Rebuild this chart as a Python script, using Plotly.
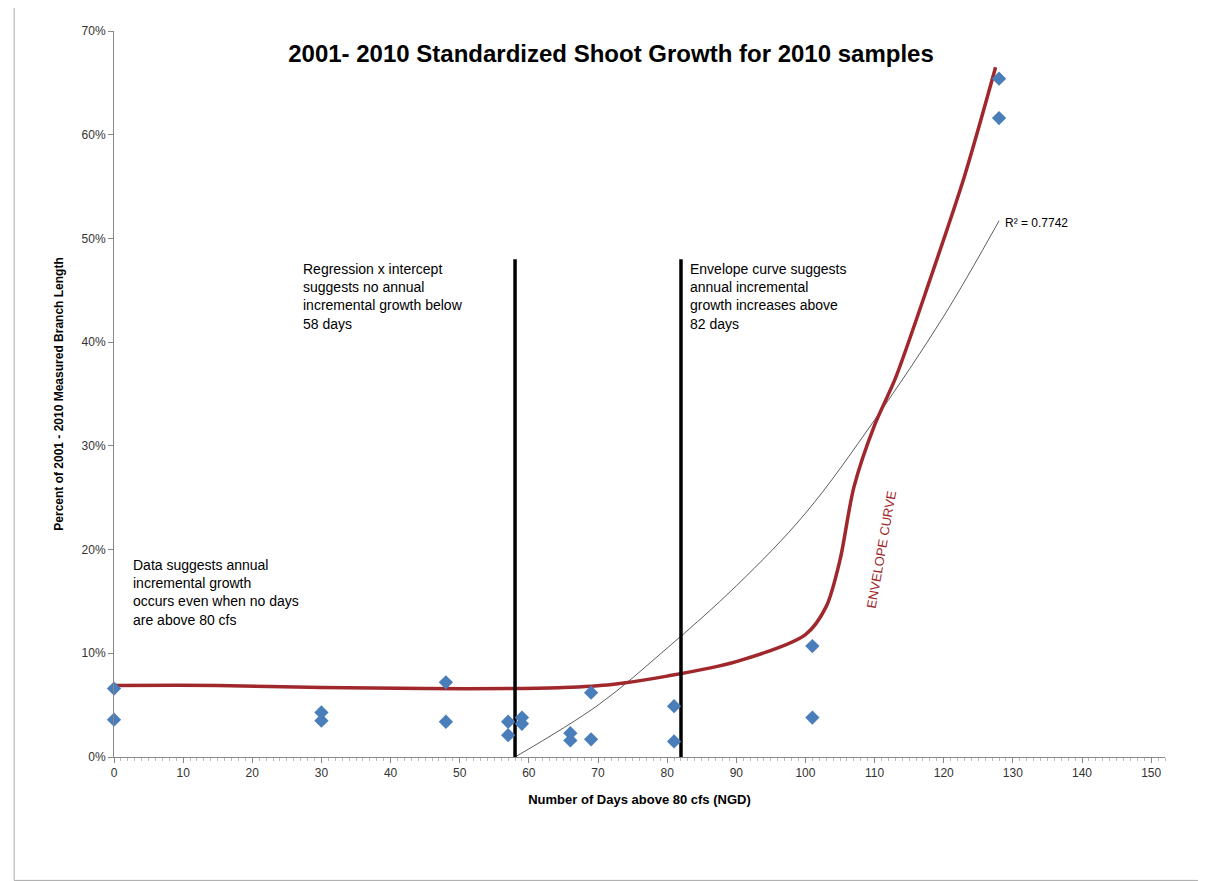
import numpy as np
import plotly.graph_objects as go

days = [0, 0, 30, 30, 48, 48, 57, 57, 59, 59, 66, 66, 69, 69, 81, 81, 101, 101, 128, 128]
pct = [6.6, 3.6, 4.3, 3.5, 7.2, 3.4, 3.4, 2.1, 3.8, 3.2, 2.3, 1.6, 6.2, 1.7, 4.9, 1.5, 10.7, 3.8, 65.4, 61.6]

env_x = [0, 15, 30, 45, 58, 65, 72, 80, 90, 100, 103, 105, 107, 110, 113, 118, 123, 127.5]
env_y = [6.9, 6.9, 6.7, 6.6, 6.6, 6.7, 7.0, 7.8, 9.2, 11.8, 14.5, 19.0, 26.0, 32.0, 36.5, 46.0, 56.0, 66.5]

vlines_x = [58, 82]
vline_top = 48

trend_x = [58, 70, 80, 90, 100, 110, 120, 128]
trend_y = [0.0, 5.0, 10.5, 16.5, 23.5, 32.5, 42.5, 51.7]

y_ticks = list(range(0, 80, 10))

fig = go.Figure()
fig.add_trace(go.Scatter(x=trend_x, y=trend_y, mode="lines", line=dict(color="#333", width=0.8, shape="spline")))
fig.add_trace(go.Scatter(x=env_x, y=env_y, mode="lines", line=dict(color="#A0282C", width=3.5, shape="spline", smoothing=0.8)))
for vx in vlines_x:
    fig.add_trace(go.Scatter(x=[vx, vx], y=[0, vline_top], mode="lines", line=dict(color="black", width=3.5)))
fig.add_trace(go.Scatter(x=days, y=pct, mode="markers", cliponaxis=False,
                         marker=dict(symbol="diamond", size=11, color="#4A7EBB")))

f = "Liberation Sans"
ann = [
    dict(x=27, y=48, text="Regression x intercept<br>suggests no annual<br>incremental growth below<br>58 days"),
    dict(x=83, y=48, text="Envelope curve suggests<br>annual incremental<br>growth increases above<br>82 days"),
    dict(x=2.5, y=19.5, text="Data suggests annual<br>incremental growth<br>occurs even when no days<br>are above 80 cfs"),
]
for a in ann:
    fig.add_annotation(x=a["x"], y=a["y"], text=a["text"], showarrow=False, xanchor="left", yanchor="top",
                       align="left", font=dict(family=f, size=14, color="black"))
fig.add_annotation(x=128.5, y=51.5, text="R² = 0.7742", showarrow=False, xanchor="left", yanchor="middle",
                   font=dict(family=f, size=12, color="black"))
fig.add_annotation(x=111, y=20, text="ENVELOPE CURVE", showarrow=False, textangle=-80,
                   font=dict(family=f, size=13, color="#A0282C"))

fig.update_layout(
    width=1206, height=881, showlegend=False, plot_bgcolor="white", paper_bgcolor="white",
    margin=dict(l=106, r=49, t=23, b=132),
    title=dict(text="<b>2001- 2010 Standardized Shoot Growth for 2010 samples</b>", x=0.5, xanchor="center",
               y=0.958, font=dict(family=f, size=24, color="black")),
    xaxis=dict(range=[0, 152], tickvals=list(range(0, 160, 10)), showgrid=False, zeroline=False,
               showline=True, linecolor="#888", ticks="outside", ticklen=5, tickcolor="#888",
               minor=dict(dtick=1, ticks="outside", ticklen=3, tickcolor="#bbb"),
               tickfont=dict(family=f, size=12, color="#333"),
               title=dict(text="<b>Number of Days above 80 cfs (NGD)</b>", font=dict(family=f, size=13, color="black"))),
    yaxis=dict(range=[0, 70], tickvals=y_ticks, ticktext=[f"{v}%" for v in y_ticks], showgrid=False, zeroline=False,
               showline=True, linecolor="#888", ticks="outside", ticklen=5, tickcolor="#888",
               tickfont=dict(family=f, size=12, color="#333"),
               title=dict(text="<b>Percent of 2001 - 2010 Measured Branch Length</b>", font=dict(family=f, size=12, color="black"))),
)
fig.add_shape(type="rect", xref="paper", yref="paper", x0=-0.095, x1=1.045, y0=-0.17, y1=1.04,
              line=dict(color="#aaa", width=1))
fig.write_html("out.html")
